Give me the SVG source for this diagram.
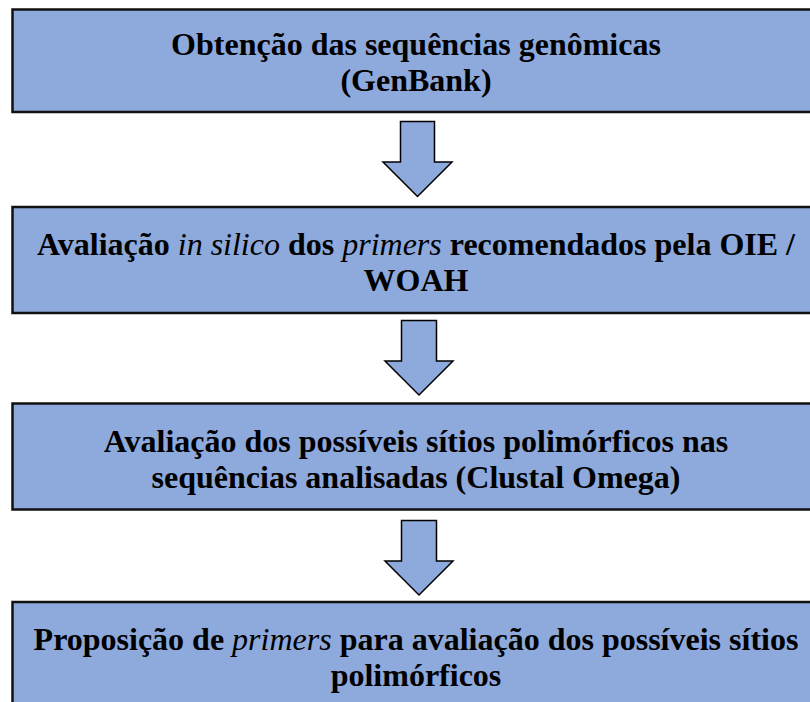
<svg xmlns="http://www.w3.org/2000/svg" width="810" height="702" viewBox="0 0 810 702">
<style>
.box{fill:#8EA9DB;stroke:#111;stroke-width:2.5}
.arrow{fill:#8EA9DB;stroke:#000;stroke-width:1.5;stroke-linejoin:miter}
.t{font-family:"Liberation Serif","Times New Roman",serif;font-size:32px;font-weight:bold;fill:#000;text-anchor:middle}
.i{font-style:italic;font-weight:normal}
</style>
<rect x="0" y="0" width="810" height="702" fill="#fff"/>
<g id="node1">
<rect class="box" x="12.5" y="9.5" width="810" height="102.5"/>
<text class="t" x="416" y="55">Obtenção das sequências genômicas</text>
<text class="t" x="416" y="91">(GenBank)</text>
</g>
<g id="node2">
<rect class="box" x="12.5" y="207" width="810" height="106"/>
<text class="t" x="416" y="255">Avaliação <tspan class="i">in silico</tspan> dos <tspan class="i">primers</tspan> recomendados pela OIE /</text>
<text class="t" x="416" y="291">WOAH</text>
</g>
<g id="node3">
<rect class="box" x="12.5" y="403.5" width="810" height="106"/>
<text class="t" x="416" y="452">Avaliação dos possíveis sítios polimórficos nas</text>
<text class="t" x="416" y="488">sequências analisadas (Clustal Omega)</text>
</g>
<g id="node4">
<rect class="box" x="12.5" y="602" width="810" height="110"/>
<text class="t" x="416" y="650">Proposição de <tspan class="i">primers</tspan> para avaliação dos possíveis sítios</text>
<text class="t" x="416" y="686">polimórficos</text>
</g>
<g id="connectors">
<polygon class="arrow" points="400.5,121.5 434.5,121.5 434.5,162 452,162 417.5,196.5 383,162 400.5,162"/>
<polygon class="arrow" points="401.5,320.5 436.5,320.5 436.5,361 453,361 419,395 385,361 401.5,361"/>
<polygon class="arrow" points="401.5,520.5 436.5,520.5 436.5,561 453,561 419,595 385,561 401.5,561"/>
</g>
</svg>
